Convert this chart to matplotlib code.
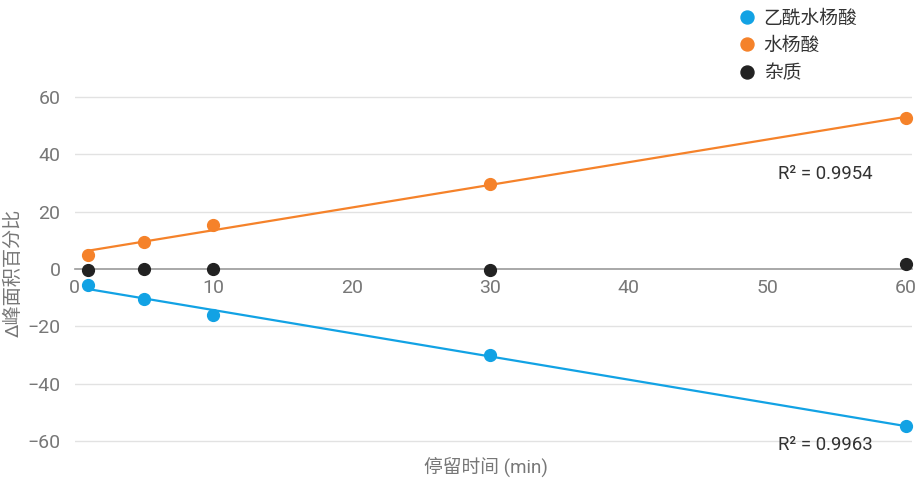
import matplotlib
matplotlib.use("Agg")
import matplotlib.pyplot as plt
import numpy as np

plt.rcParams['font.family'] = ['Roboto', 'Noto Sans CJK SC', 'DejaVu Sans']

time_min = [1, 5, 10, 30, 60]
series_names = ["乙酰水杨酸", "水杨酸", "杂质"]
aspirin = [-5.6, -10.5, -16.0, -30.0, -54.8]
salicylic = [4.9, 9.4, 15.3, 29.6, 52.7]
impurity = [-0.3, 0.0, -0.1, -0.2, 1.8]
colors = ["#12a2e4", "#f5822a", "#222222"]
r2_labels = ["R² = 0.9963", "R² = 0.9954"]
xticks = [0, 10, 20, 30, 40, 50, 60]
yticks = [-60, -40, -20, 0, 20, 40, 60]

fig = plt.figure(figsize=(9.16, 4.8), dpi=100)
W, H = 916, 480
x0, x1 = 74.5, 906
ytop_lim, ybot_lim = 64, -64
pxu = (441 - 97) / 120
top_px = 269 - ytop_lim * pxu
bot_px = 269 - ybot_lim * pxu
xr = 60.4
ax = fig.add_axes([x0 / W, 1 - bot_px / H, ((x1 - x0) / 60 * xr) / W, (bot_px - top_px) / H])
ax.set_xlim(0, xr)
ax.set_ylim(ybot_lim, ytop_lim)

for y in yticks:
    if y != 0:
        ax.axhline(y, color="#e2e2e2", lw=1, zorder=0)

for s in ["top", "right", "left"]:
    ax.spines[s].set_visible(False)
ax.spines["bottom"].set_position(("data", 0))
ax.spines["bottom"].set_color("#9a9a9a")
ax.spines["bottom"].set_linewidth(1.2)

t = np.array(time_min, dtype=float)
series = [aspirin, salicylic, impurity]
for name, vals, c in zip(series_names, series, colors):
    ax.plot(t, vals, "o", color=c, ms=8.5, label=name, zorder=4, clip_on=False)

for vals, c in [(aspirin, colors[0]), (salicylic, colors[1])]:
    k, b = np.polyfit(t, np.array(vals), 1)
    xs = np.array([t.min(), t.max()])
    ax.plot(xs, k * xs + b, color=c, lw=1.6, zorder=3)

ax.set_xticks(xticks)
ax.set_yticks(yticks)
ax.set_yticklabels([str(v).replace("-", "−") for v in yticks])
ax.tick_params(axis="both", length=0, colors="#777777", labelsize=14)
ax.tick_params(axis="y", pad=10)
ax.tick_params(axis="x", pad=7)

ax.text(54.2, 33.1, r2_labels[1], ha="center", va="center", fontsize=13.4, color="#333333")
ax.text(54.2, -61.3, r2_labels[0], ha="center", va="center", fontsize=13.4, color="#333333")

fig.text(14 / W, 1 - 273 / H, "Δ峰面积百分比", rotation=90, ha="center", va="center",
         fontsize=13.8, color="#777777")
fig.text(486 / W, 1 - 467 / H, "停留时间 (min)", ha="center", va="center",
         fontsize=13.5, color="#777777")

leg = fig.legend(loc="upper left", bbox_to_anchor=(728 / W, 1 - 2 / H), frameon=False,
                 fontsize=13.5, handletextpad=0.3, labelspacing=0.5, handlelength=1.2,
                 borderaxespad=0, markerscale=1.1)
for txt in leg.get_texts():
    txt.set_color("#333333")

fig.savefig("out.png", dpi=100)
